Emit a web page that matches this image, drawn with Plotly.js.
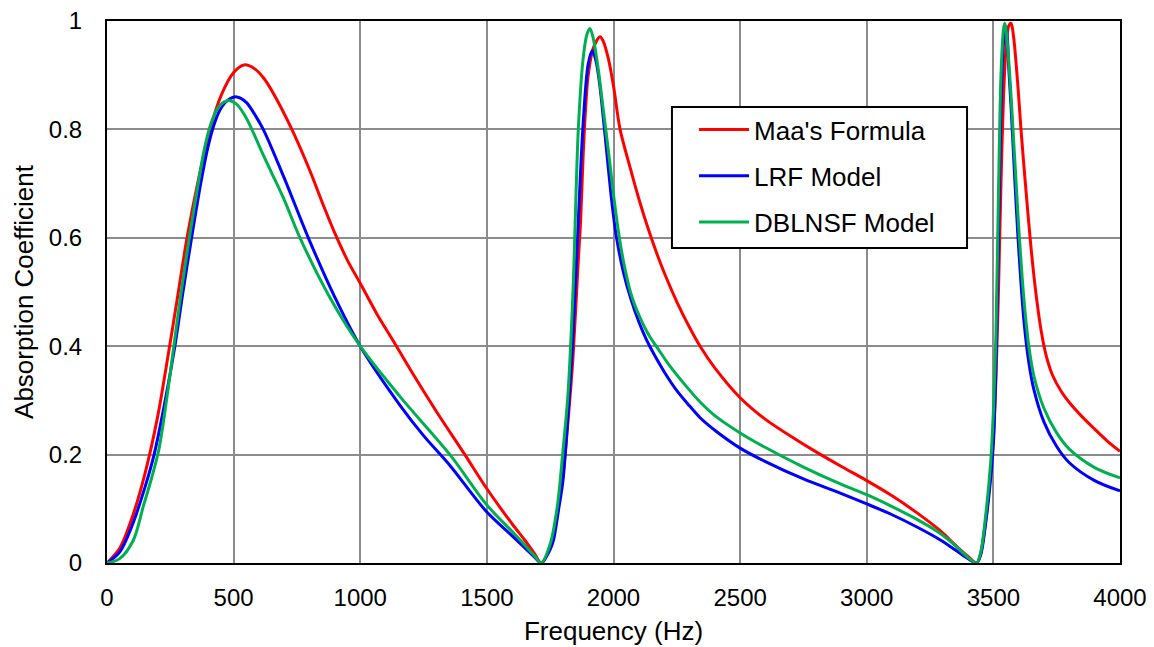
<!DOCTYPE html>
<html>
<head>
<meta charset="utf-8">
<script src="https://cdn.plot.ly/plotly-3.0.1.min.js"></script>
<style>html,body{margin:0;padding:0;background:#fff;}#chart{width:1154px;height:647px;}</style>
</head>
<body>
<div id="chart"></div>
<script>
// Maa's Formula
const freqMaa = [0,50,100,150,200,242,280,316,360,407,450,500,541,580,620,660,730,800,850,900,950,1000,1065,1130,1200,1300,1413,1500,1600,1650,1690,1715,
  1750,1780,1800,1820,1840,1860,1870,1880,1890,1900,1920,1947,1960,1980,2000,2026,2063,2100,2136,2175,2200,2250,2300,2342,2400,2500,2600,2700,2800,2900,3000,3100,3200,3289,3350,3400,3434,
  3450,3470,3490,3500,3510,3520,3530,3540,3550,3560,3570,3580,3590,3600,3609,3630,3650,3670,3690,3710,3735,3770,3800,3850,3900,3950,4000];
const maa = [0,0.027,0.085,0.165,0.27,0.385,0.495,0.6,0.705,0.8,0.862,0.905,0.919,0.913,0.894,0.864,0.8,0.725,0.665,0.608,0.558,0.516,0.46,0.41,0.355,0.28,0.2,0.137,0.072,0.042,0.016,0,
  0.03,0.1,0.16,0.26,0.38,0.55,0.63,0.75,0.84,0.9,0.95,0.971,0.962,0.93,0.88,0.8,0.734,0.672,0.618,0.566,0.536,0.482,0.435,0.4,0.36,0.305,0.265,0.234,0.205,0.178,0.152,0.124,0.092,0.06,0.033,0.012,0,
  0.018,0.08,0.17,0.23,0.34,0.5,0.7,0.86,0.95,0.99,0.996,0.97,0.92,0.86,0.8,0.68,0.575,0.49,0.425,0.38,0.345,0.315,0.296,0.27,0.247,0.225,0.206];

// LRF Model
const freqLrf = [0,50,100,150,186,230,268,300,334,370,395,420,445,475,512,550,580,617,700,795,900,1000,1157,1250,1354,1500,1600,1650,1690,1715,
  1750,1763,1785,1800,1820,1840,1860,1880,1900,1916,1930,1945,1960,1975,1990,2000,2012,2040,2070,2100,2130,2160,2200,2250,2300,2342,2400,2500,2600,2750,2900,3000,3100,3200,3289,3350,3400,3434,
  3450,3470,3490,3500,3510,3520,3530,3540,3548,3555,3560,3570,3580,3590,3600,3620,3640,3660,3700,3750,3800,3900,4000];
const lrf = [0,0.02,0.07,0.14,0.2,0.3,0.4,0.5,0.6,0.7,0.76,0.805,0.835,0.853,0.86,0.85,0.83,0.8,0.71,0.6,0.49,0.4,0.291,0.235,0.18,0.094,0.05,0.028,0.01,0,
  0.025,0.042,0.104,0.15,0.27,0.42,0.62,0.81,0.92,0.945,0.928,0.885,0.82,0.75,0.68,0.64,0.6,0.535,0.485,0.445,0.412,0.385,0.353,0.318,0.29,0.268,0.245,0.212,0.187,0.155,0.128,0.109,0.089,0.066,0.043,0.024,0.008,0,
  0.015,0.075,0.16,0.22,0.36,0.6,0.84,0.96,0.99,0.97,0.92,0.84,0.75,0.66,0.58,0.45,0.37,0.32,0.26,0.215,0.185,0.152,0.133];

// DBLNSF Model
const freqDbl = [0,50,104,143,175,205,235,261,290,325,360,385,410,435,460,486,515,545,575,610,650,700,762,880,1000,1157,1354,1500,1600,1650,1690,1715,
  1750,1778,1799,1820,1840,1861,1880,1895,1907,1920,1940,1960,1980,2000,2020,2040,2070,2100,2140,2176,2220,2280,2342,2400,2500,2600,2750,2900,3000,3100,3200,3289,3350,3400,3434,
  3450,3470,3490,3500,3510,3520,3530,3540,3545,3550,3560,3570,3580,3590,3600,3620,3640,3660,3700,3750,3800,3900,4000];
const dbl = [0,0.008,0.042,0.104,0.155,0.21,0.3,0.39,0.49,0.6,0.7,0.765,0.81,0.837,0.85,0.853,0.845,0.825,0.797,0.76,0.72,0.67,0.6,0.49,0.4,0.307,0.2,0.107,0.058,0.033,0.012,0,
  0.035,0.104,0.2,0.31,0.5,0.8,0.93,0.975,0.986,0.968,0.91,0.835,0.76,0.68,0.61,0.555,0.495,0.458,0.42,0.395,0.365,0.33,0.297,0.272,0.24,0.213,0.177,0.145,0.126,0.104,0.08,0.055,0.032,0.01,0,
  0.02,0.09,0.19,0.28,0.42,0.68,0.9,0.985,0.996,0.985,0.93,0.86,0.78,0.7,0.62,0.49,0.4,0.345,0.285,0.24,0.21,0.176,0.157];

const names = ["Maa's Formula", "LRF Model", "DBLNSF Model"];
const colors = ['#ff0000', '#0000ff', '#00b050'];

const xs = [freqMaa, freqLrf, freqDbl];
const ys = [maa, lrf, dbl];
const traces = names.map((n, i) => ({
  x: xs[i], y: ys[i], name: n, type: 'scatter', mode: 'lines',
  legendgroup: 'g' + i,
  line: {color: colors[i], width: 3, shape: 'spline', smoothing: 0.9}
}));

const font = {family: 'Arial, "Liberation Sans", sans-serif', color: '#000'};
const layout = {
  width: 1154, height: 647,
  margin: {l: 107, r: 34, t: 21, b: 84},
  paper_bgcolor: '#fff', plot_bgcolor: '#fff',
  font: Object.assign({size: 24}, font),
  showlegend: true,
  legend: {
    x: 0.5795, y: 0.843, xanchor: 'left', yanchor: 'top',
    bgcolor: 'rgba(0,0,0,0)', borderwidth: 0,
    font: Object.assign({size: 26}, font),
    traceorder: 'grouped', tracegroupgap: 9.5,
    itemwidth: 50
  },
  shapes: [{
    type: 'rect', xref: 'paper', yref: 'paper', layer: 'above',
    x0: 0.5577, x1: 0.849, y0: 0.5812, y1: 0.8413,
    fillcolor: '#fff', line: {color: '#000', width: 2}
  }],
  xaxis: {
    range: [0, 4000], dtick: 500, tick0: 0,
    showgrid: true, gridcolor: '#8c8c8c', gridwidth: 2,
    showline: true, linecolor: '#000', linewidth: 2, mirror: true,
    ticks: '', zeroline: false,
    tickfont: Object.assign({size: 24}, font),
    ticklabelstandoff: 12,
    title: {text: 'Frequency (Hz)', font: Object.assign({size: 26}, font), standoff: 12}
  },
  yaxis: {
    range: [0, 1], dtick: 0.2, tick0: 0,
    showgrid: true, gridcolor: '#8c8c8c', gridwidth: 2,
    showline: true, linecolor: '#000', linewidth: 2, mirror: true,
    ticks: '', zeroline: false,
    tickfont: Object.assign({size: 24}, font),
    ticklabelstandoff: 18,
    title: {text: 'Absorption Coefficient', font: Object.assign({size: 26}, font), standoff: 8}
  }
};

Plotly.newPlot('chart', traces, layout, {displayModeBar: false, staticPlot: true});
</script>
</body>
</html>
